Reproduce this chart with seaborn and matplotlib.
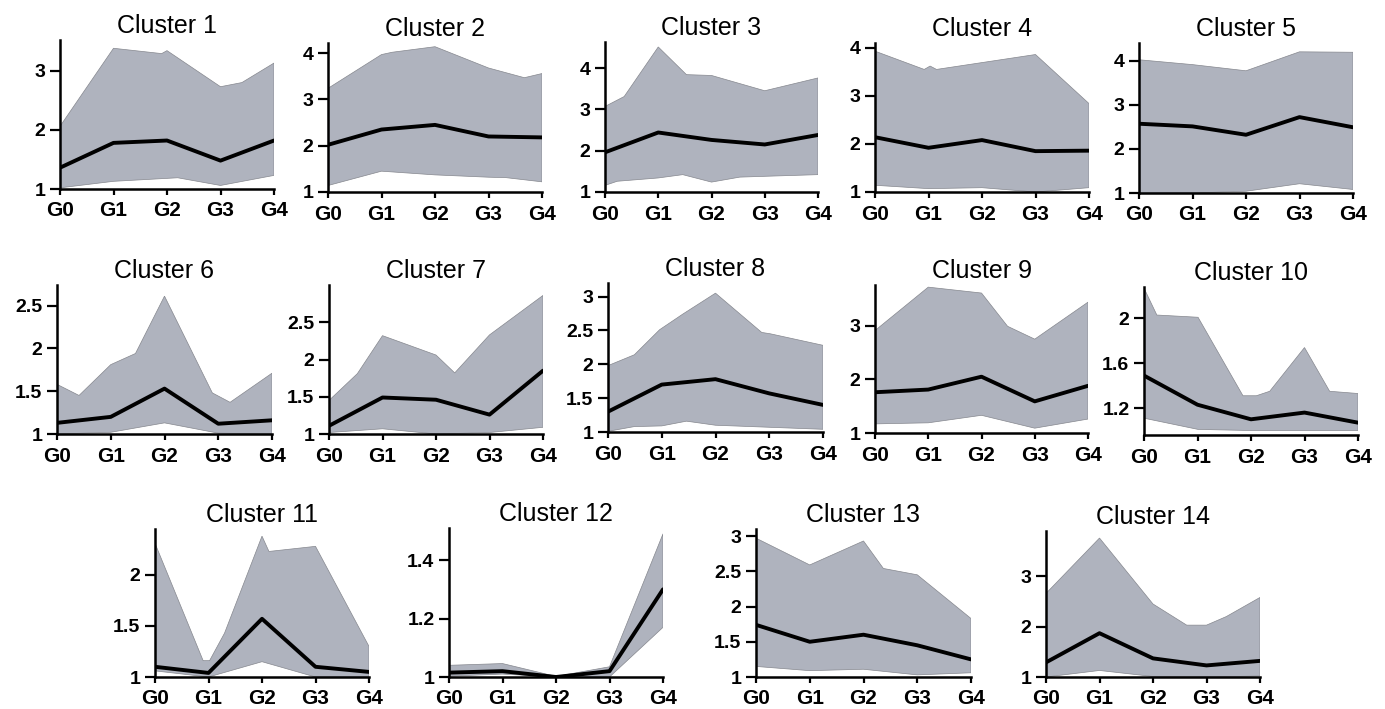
import numpy as np
import pandas as pd
import matplotlib
matplotlib.use("Agg")
import matplotlib.pyplot as plt
from matplotlib.ticker import FuncFormatter
import seaborn as sns

# Mean expression per stage for every cluster
stages = ["G0", "G1", "G2", "G3", "G4"]
titles = ["Cluster %d" % i for i in range(1, 15)]
means = [
    [1.36, 1.78, 1.82, 1.48, 1.82],
    [2.02, 2.35, 2.45, 2.20, 2.18],
    [1.96, 2.44, 2.26, 2.15, 2.38],
    [2.14, 1.92, 2.08, 1.85, 1.86],
    [2.57, 2.51, 2.32, 2.72, 2.49],
    [1.13, 1.20, 1.53, 1.12, 1.16],
    [1.11, 1.49, 1.46, 1.26, 1.85],
    [1.30, 1.70, 1.78, 1.57, 1.40],
    [1.76, 1.81, 2.05, 1.59, 1.88],
    [1.49, 1.23, 1.10, 1.16, 1.07],
    [1.10, 1.04, 1.57, 1.10, 1.05],
    [1.015, 1.02, 1.00, 1.02, 1.30],
    [1.74, 1.50, 1.60, 1.45, 1.25],
    [1.29, 1.87, 1.37, 1.23, 1.32],
]

# Upper / lower edges of the grey range band (stage position, value)
upper_x = [
    [0, 1, 1.9, 2, 3, 3.4, 4],
    [0, 1, 1.2, 2, 3, 3.67, 4],
    [0, 0.36, 1, 1.53, 2, 3, 4],
    [0, 0.92, 1.03, 1.15, 3, 4],
    [0, 1, 2, 3, 4],
    [0, 0.41, 1, 1.46, 2, 2.89, 3.22, 4],
    [0, 0.53, 1, 2, 2.35, 3, 4],
    [0, 0.49, 0.96, 1.39, 2, 2.86, 3.02, 4],
    [0, 1, 2, 2.49, 3, 4],
    [0, 0.24, 1.01, 1.85, 2.1, 2.35, 3, 3.47, 4],
    [0, 0.9, 1.02, 1.3, 2, 2.13, 3, 4],
    [0, 1, 2, 3, 4],
    [0, 1, 2, 2.37, 3, 4],
    [0, 1, 2, 2.63, 3, 3.37, 4],
]
upper_y = [
    [2.06, 3.38, 3.29, 3.34, 2.73, 2.80, 3.13],
    [3.24, 3.97, 4.02, 4.14, 3.68, 3.47, 3.56],
    [3.07, 3.31, 4.51, 3.84, 3.82, 3.45, 3.76],
    [3.93, 3.55, 3.62, 3.55, 3.86, 2.84],
    [4.02, 3.91, 3.77, 4.20, 4.19],
    [1.58, 1.45, 1.81, 1.94, 2.61, 1.48, 1.37, 1.71],
    [1.45, 1.81, 2.32, 2.06, 1.82, 2.33, 2.86],
    [1.98, 2.14, 2.51, 2.74, 3.05, 2.47, 2.45, 2.28],
    [2.91, 3.72, 3.61, 2.99, 2.75, 3.44],
    [2.27, 2.03, 2.01, 1.31, 1.31, 1.35, 1.74, 1.35, 1.33],
    [2.31, 1.16, 1.16, 1.43, 2.38, 2.23, 2.28, 1.30],
    [1.04, 1.046, 1.002, 1.035, 1.49],
    [2.97, 2.59, 2.93, 2.54, 2.45, 1.83],
    [2.66, 3.76, 2.45, 2.03, 2.03, 2.20, 2.58],
]
lower_x = [
    [0, 1, 2.2, 3, 4],
    [0, 1, 2, 3, 3.33, 4],
    [0, 0.23, 1, 1.46, 2, 2.53, 3, 4],
    [0, 1, 2, 3, 4],
    [0, 1, 2, 3, 4],
    [0, 1, 2, 3, 4],
    [0, 1, 2, 3, 4],
    [0, 0.49, 1, 1.46, 2, 3, 4],
    [0, 1, 2, 3, 4],
    [0, 1.01, 2, 3, 4],
    [0, 1, 2, 3, 4],
    [0, 1, 2, 3, 4],
    [0, 1, 2, 3, 4],
    [0, 1, 2, 3, 4],
]
lower_y = [
    [1.02, 1.13, 1.19, 1.06, 1.23],
    [1.14, 1.45, 1.37, 1.32, 1.31, 1.22],
    [1.16, 1.26, 1.34, 1.42, 1.24, 1.36, 1.38, 1.42],
    [1.14, 1.07, 1.09, 1.00, 1.09],
    [1.00, 1.00, 1.04, 1.21, 1.08],
    [1.00, 1.02, 1.13, 1.01, 1.00],
    [1.02, 1.07, 1.00, 1.02, 1.09],
    [1.01, 1.08, 1.09, 1.16, 1.10, 1.07, 1.04],
    [1.17, 1.19, 1.33, 1.09, 1.26],
    [1.11, 1.01, 1.00, 1.00, 1.00],
    [1.06, 1.00, 1.15, 1.00, 1.00],
    [1.003, 1.01, 1.00, 1.00, 1.17],
    [1.15, 1.09, 1.11, 1.03, 1.06],
    [1.00, 1.13, 1.01, 1.00, 1.02],
]

# y axis ranges and ticks
y_bottom = [1, 1, 1, 1, 1, 1, 1, 1, 1, 0.96, 1, 1, 1, 1]
y_top = [3.52, 4.22, 4.63, 4.1, 4.4, 2.74, 3.0, 3.2, 3.76, 2.28, 2.45, 1.51, 3.1, 3.9]
y_ticks = [
    [1, 2, 3], [1, 2, 3, 4], [1, 2, 3, 4], [1, 2, 3, 4], [1, 2, 3, 4],
    [1, 1.5, 2, 2.5], [1, 1.5, 2, 2.5], [1, 1.5, 2, 2.5, 3], [1, 2, 3], [1.2, 1.6, 2],
    [1, 1.5, 2], [1, 1.2, 1.4], [1, 1.5, 2, 2.5, 3], [1, 2, 3],
]

# panel boxes in pixels: left, right, top, bottom
boxes = [
    (60, 274, 40, 189), (328, 542, 43, 192), (605, 818, 42, 192), (875, 1089, 43, 192), (1139, 1353, 43, 193),
    (57, 272, 285, 434), (329, 543, 285, 434), (608, 823, 283, 432), (875, 1088, 285, 433), (1144, 1358, 287, 435),
    (155, 369, 529, 677), (449, 663, 528, 677), (756, 971, 529, 677), (1046, 1260, 531, 677),
]

sns.set_style("ticks")
plt.rcParams["font.family"] = ["Liberation Sans", "DejaVu Sans"]
plt.rcParams["text.color"] = "black"
plt.rcParams["axes.labelcolor"] = "black"

W, H = 1385, 709
fig = plt.figure(figsize=(W / 100, H / 100), dpi=100)
band_color = "#afb3be"

for i in range(14):
    x0, x1, t, b = boxes[i]
    ax = fig.add_axes([x0 / W, 1 - b / H, (x1 - x0) / W, (b - t) / H])

    px = np.r_[upper_x[i], lower_x[i][::-1]]
    py = np.r_[upper_y[i], lower_y[i][::-1]]
    ax.fill(px, py, facecolor=band_color, edgecolor="#85878e", lw=0.5, zorder=1)

    df = pd.DataFrame({"stage": range(5), "value": means[i]})
    sns.lineplot(data=df, x="stage", y="value", ax=ax, color="black", lw=2.8, zorder=3)

    ax.set_xlim(0, 4)
    ax.set_ylim(y_bottom[i], y_top[i])
    ax.set_xticks(range(5))
    ax.set_xticklabels(stages, fontsize=15, fontweight="bold")
    ax.set_yticks(y_ticks[i])
    ax.yaxis.set_major_formatter(FuncFormatter(lambda v, p: "%g" % v))
    plt.setp(ax.get_yticklabels(), fontsize=14, fontweight="bold")
    ax.set_xlabel("")
    ax.set_ylabel("")
    ax.set_title(titles[i], fontsize=18, pad=5, color="black")

    sns.despine(ax=ax)
    for s in ["left", "bottom"]:
        ax.spines[s].set_linewidth(1.8)
        ax.spines[s].set_color("black")
        ax.spines[s].set_zorder(5)
    ax.tick_params(axis="x", length=4, width=1.6, pad=5, colors="black")
    ax.tick_params(axis="y", length=7, width=1.6, pad=3.5, colors="black")

fig.savefig("out.png", dpi=100)
